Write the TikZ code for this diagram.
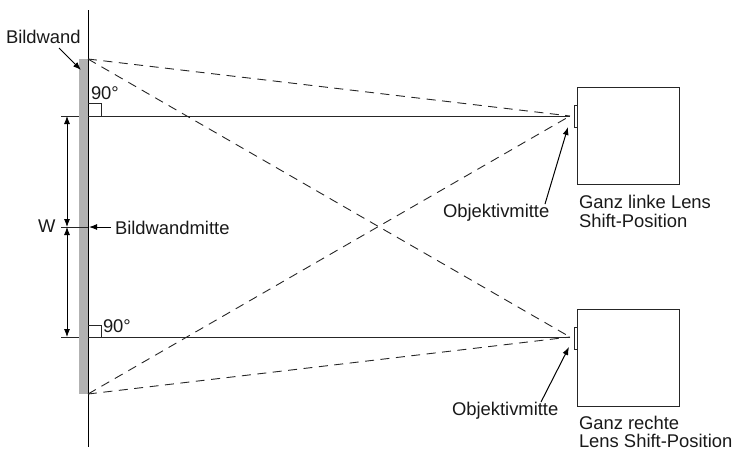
\documentclass[tikz,border=0pt]{standalone}
\usepackage{fontspec}
\setmainfont{Liberation Sans}
\usetikzlibrary{arrows.meta}
\tikzset{
  x=1pt,y=-1pt,
  thinln/.style={line width=1pt,color=black!85},
  dashln/.style={line width=0.9pt,color=black!85,dash pattern=on 9pt off 6.5pt},
  ptr/.style={line width=1pt,color=black,-{Latex[length=8pt,width=6pt]}},
  lab/.style={anchor=base west,inner sep=0pt,outer sep=0pt,font=\fontsize{18.4}{20}\selectfont,text=black!90},
}
\begin{document}
\begin{tikzpicture}
\useasboundingbox (0,0) rectangle (735,451);
% screen
\fill[black!30] (79,59) rectangle (88,394);
\coordinate (wallT) at (88,10);
\coordinate (wallB) at (88,447);
\draw[line width=1pt] (wallT) -- (wallB);
\coordinate (scrT) at (88,59);
\coordinate (scrB) at (88,394);
% projectors
\coordinate (lensA) at (570,116);
\coordinate (lensB) at (570,337);
\draw[black!85,line width=1pt] (577.5,87.5) rectangle (679,184);
\draw[black!85,line width=1pt] (577.5,309) rectangle (679,406);
\draw[black!85,line width=1pt] (574,105) rectangle (577.5,127);
\draw[black!85,line width=1pt] (574,327) rectangle (577.5,349);
% axes
\coordinate (axA) at (88,116);
\coordinate (axB) at (88,337);
\draw[thinln] (axA) -- (lensA);
\draw[thinln] (axB) -- (lensB);
% dashed rays
\draw[dashln] (scrT) -- (lensA);
\draw[dashln] (scrT) -- (lensB);
\draw[dashln] (scrB) -- (lensA);
\draw[dashln] (scrB) -- (lensB);
% right angle marks
\draw[line width=0.8pt,black!85] (88,103) -- (101,103) -- (101,116);
\draw[line width=0.8pt,black!85] (88,325) -- (101,325) -- (101,337);
% dimension
\draw[line width=0.8pt,black!85] (61,116) -- (79,116);
\draw[line width=0.8pt,black!85] (61,227) -- (88,227);
\draw[line width=0.8pt,black!85] (61,337) -- (79,337);
\coordinate (dT) at (67,116);
\coordinate (dM) at (67,227);
\coordinate (dB) at (67,337);
\draw[line width=0.8pt,{Latex[length=8pt,width=6pt]}-{Latex[length=8pt,width=6pt]}] (dT) -- (dM);
\draw[line width=0.8pt,{Latex[length=8pt,width=6pt]}-{Latex[length=8pt,width=6pt]}] (dM) -- (dB);
% labels
\node[lab] (bw) at (6,43) {Bildwand};
\node[lab] (a1) at (91,99) {90°};
\node[lab] (a2) at (103,332) {90°};
\node[lab] (w) at (38,232) {W};
\node[lab] (bm) at (115,234) {Bildwandmitte};
\node[lab] (oa) at (443,217) {Objektivmitte};
\node[lab] (ob) at (452,415) {Objektivmitte};
\node[lab] (ga) at (579,208) {Ganz linke Lens};
\node[lab] (gb) at (579,227) {Shift-Position};
\node[lab] (ra) at (579,429) {Ganz rechte};
\node[lab] (rb) at (579,447.5) {Lens Shift-Position};
% pointers
\coordinate (pbw) at (81,70);
\coordinate (pbm) at (89,227);
\coordinate (poa) at (568,127);
\coordinate (pob) at (569,347);
\draw[ptr] (59,48) -- (pbw);
\draw[ptr] (111,227) -- (pbm);
\draw[ptr] (545,204) -- (poa);
\draw[ptr] (541,402) -- (pob);
\end{tikzpicture}
\end{document}
